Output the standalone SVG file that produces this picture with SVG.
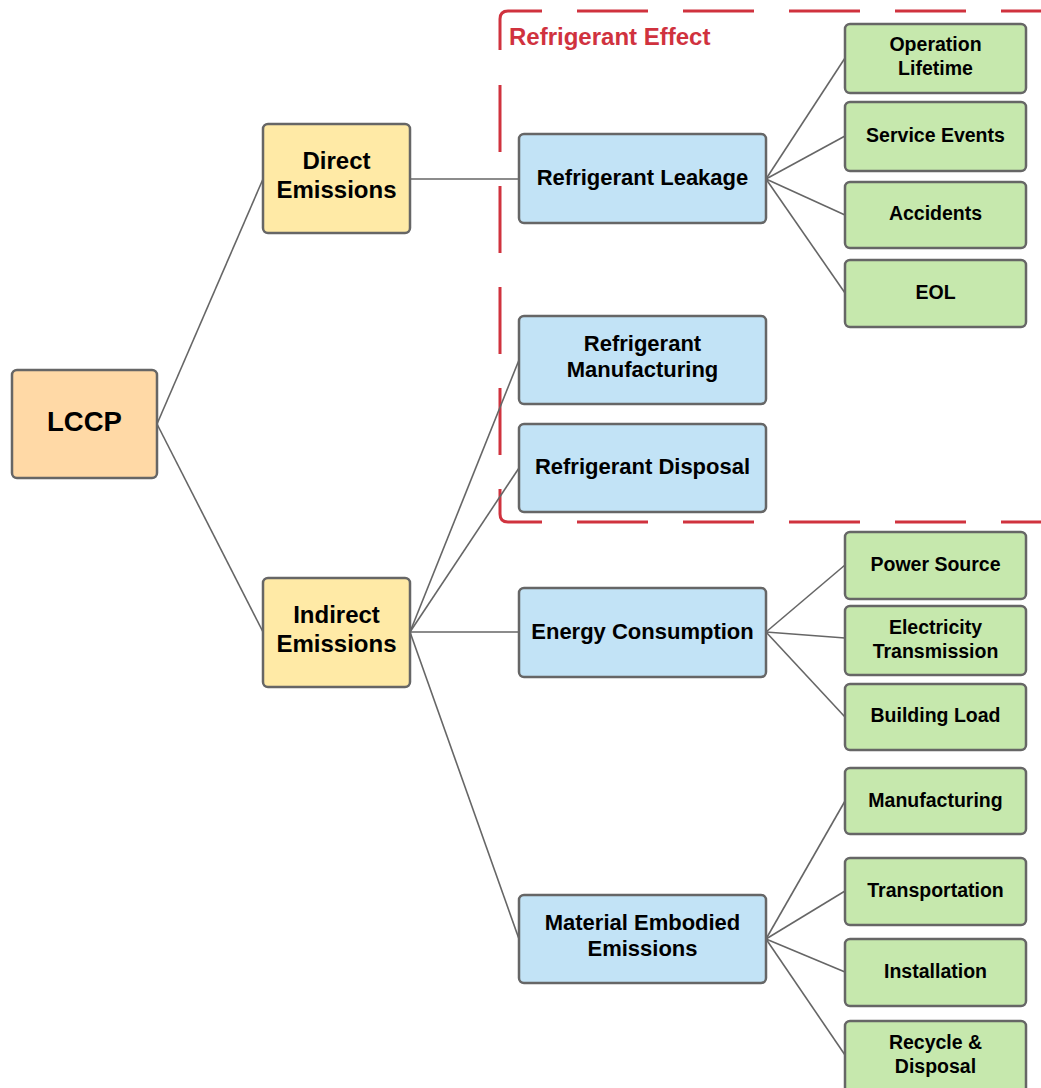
<svg xmlns="http://www.w3.org/2000/svg" width="1041" height="1088" viewBox="0 0 1041 1088">
<style>
.n rect{stroke:#666;stroke-width:2.5}
.peach rect{fill:#ffd9a6}
.yel rect{fill:#ffeaa6}
.blue rect{fill:#c2e3f6}
.green rect{fill:#c6e8ad}
text{font-family:"Liberation Sans",Arial,sans-serif;font-weight:bold;fill:#000;text-anchor:middle;dominant-baseline:central}
.peach text{font-size:27.5px}
.yel text{font-size:24px}
.blue text{font-size:22px}
.green text{font-size:19.5px}
.c line{stroke:#666;stroke-width:1.6}
.dash{fill:none;stroke:#d0323e;stroke-width:3}
</style>
<g id="refrigerant-effect">
<path class="dash" d="M542,11 H508 Q500,11 500,19 V50"/>
<path class="dash" d="M577,11 H1050" stroke-dasharray="71 35"/>
<path class="dash" d="M500,85 V460" stroke-dasharray="67 34"/>
<path class="dash" d="M500,489 V514 Q500,522 508,522 H542"/>
<path class="dash" d="M577,522 H1050" stroke-dasharray="71 35"/>
<text x="509" y="36" style="fill:#d0323e;font-size:24px;text-anchor:start">Refrigerant Effect</text>
</g>
<g id="connectors" class="c">
<line x1="157" y1="424" x2="263" y2="179"/>
<line x1="157" y1="424" x2="263" y2="632"/>
<line x1="410" y1="179" x2="519" y2="179"/>
<line x1="410" y1="632" x2="519" y2="360"/>
<line x1="410" y1="632" x2="519" y2="468"/>
<line x1="410" y1="632" x2="519" y2="632"/>
<line x1="410" y1="632" x2="519" y2="939"/>
<line x1="766" y1="179" x2="845" y2="58"/>
<line x1="766" y1="179" x2="845" y2="136"/>
<line x1="766" y1="179" x2="845" y2="215"/>
<line x1="766" y1="179" x2="845" y2="293"/>
<line x1="766" y1="632" x2="845" y2="565"/>
<line x1="766" y1="632" x2="845" y2="638"/>
<line x1="766" y1="632" x2="845" y2="717"/>
<line x1="766" y1="939" x2="845" y2="801"/>
<line x1="766" y1="939" x2="845" y2="891"/>
<line x1="766" y1="939" x2="845" y2="972"/>
<line x1="766" y1="939" x2="845" y2="1055"/>
</g>
<g id="lccp" class="n peach"><rect x="12" y="370" width="145" height="108" rx="5"/><text x="84.5" y="421">LCCP</text></g>
<g id="direct" class="n yel"><rect x="263" y="124" width="147" height="109" rx="5"/><text x="336.5" y="160">Direct</text><text x="336.5" y="189">Emissions</text></g>
<g id="indirect" class="n yel"><rect x="263" y="578" width="147" height="109" rx="5"/><text x="336.5" y="614">Indirect</text><text x="336.5" y="643">Emissions</text></g>
<g id="leakage" class="n blue"><rect x="519" y="134" width="247" height="89" rx="5"/><text x="642.5" y="177">Refrigerant Leakage</text></g>
<g id="ref-manufacturing" class="n blue"><rect x="519" y="316" width="247" height="88" rx="5"/><text x="642.5" y="343">Refrigerant</text><text x="642.5" y="369">Manufacturing</text></g>
<g id="ref-disposal" class="n blue"><rect x="519" y="424" width="247" height="88" rx="5"/><text x="642.5" y="466">Refrigerant Disposal</text></g>
<g id="energy" class="n blue"><rect x="519" y="588" width="247" height="89" rx="5"/><text x="642.5" y="631">Energy Consumption</text></g>
<g id="material" class="n blue"><rect x="519" y="895" width="247" height="88" rx="5"/><text x="642.5" y="922">Material Embodied</text><text x="642.5" y="948">Emissions</text></g>
<g id="operation-lifetime" class="n green"><rect x="845" y="24" width="181" height="69" rx="5"/><text x="935.5" y="44">Operation</text><text x="935.5" y="68">Lifetime</text></g>
<g id="service-events" class="n green"><rect x="845" y="102" width="181" height="69" rx="5"/><text x="935.5" y="135">Service Events</text></g>
<g id="accidents" class="n green"><rect x="845" y="182" width="181" height="66" rx="5"/><text x="935.5" y="213">Accidents</text></g>
<g id="eol" class="n green"><rect x="845" y="260" width="181" height="67" rx="5"/><text x="935.5" y="292">EOL</text></g>
<g id="power-source" class="n green"><rect x="845" y="532" width="181" height="67" rx="5"/><text x="935.5" y="564">Power Source</text></g>
<g id="electricity-transmission" class="n green"><rect x="845" y="606" width="181" height="69" rx="5"/><text x="935.5" y="627">Electricity</text><text x="935.5" y="651">Transmission</text></g>
<g id="building-load" class="n green"><rect x="845" y="684" width="181" height="66" rx="5"/><text x="935.5" y="715">Building Load</text></g>
<g id="manufacturing" class="n green"><rect x="845" y="768" width="181" height="66" rx="5"/><text x="935.5" y="800">Manufacturing</text></g>
<g id="transportation" class="n green"><rect x="845" y="858" width="181" height="67" rx="5"/><text x="935.5" y="890">Transportation</text></g>
<g id="installation" class="n green"><rect x="845" y="939" width="181" height="67" rx="5"/><text x="935.5" y="971">Installation</text></g>
<g id="recycle-disposal" class="n green"><rect x="845" y="1021" width="181" height="72" rx="5"/><text x="935.5" y="1042">Recycle &amp;</text><text x="935.5" y="1066">Disposal</text></g>
</svg>
